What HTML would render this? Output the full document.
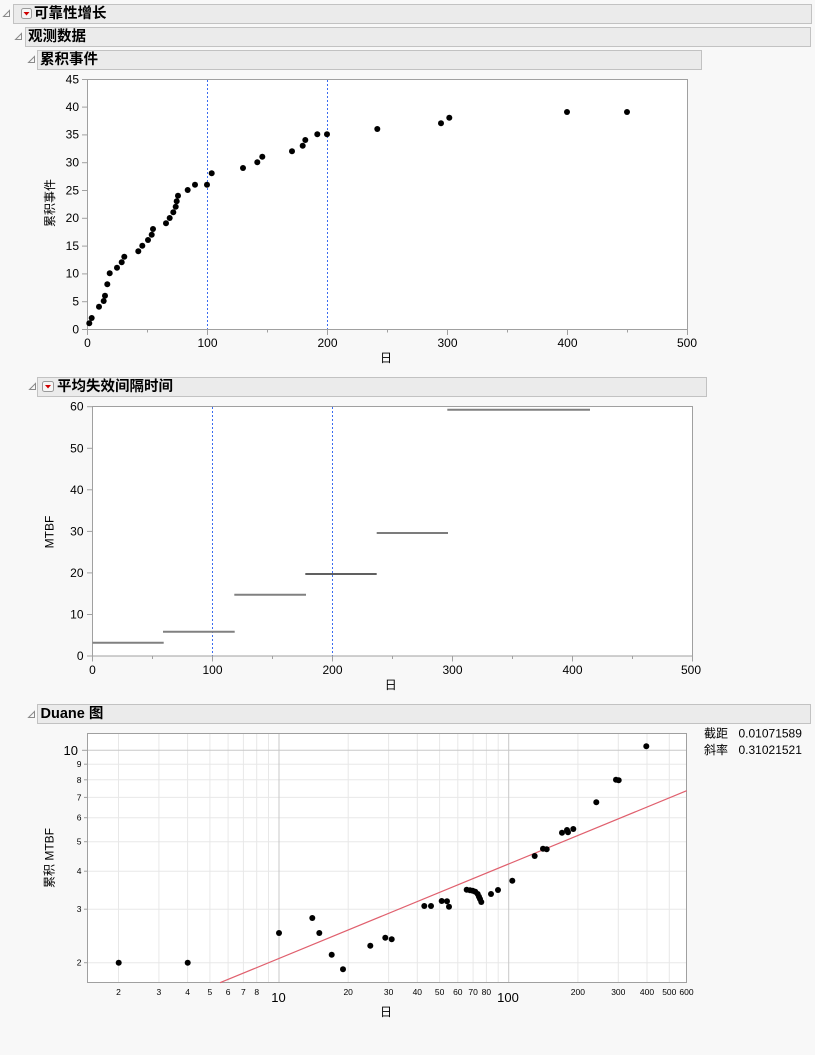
<!DOCTYPE html>
<html><head><meta charset="utf-8">
<style>
html,body{margin:0;padding:0;background:#f8f8f8;}
svg{display:block;}
text{font-family:"Liberation Sans","Noto Sans CJK SC",sans-serif;fill:#000;}
.h{font-weight:bold;font-size:14.5px;}
.t{font-size:12px;}
.s{font-size:8.5px;}
</style></head><body>
<svg width="815" height="1055" viewBox="0 0 815 1055" xmlns="http://www.w3.org/2000/svg">
<rect x="0" y="0" width="815" height="1055" fill="#f8f8f8"/>

<!-- Header bars -->
<g stroke="#c2c2c2" fill="#ebebeb">
<rect x="13.5" y="4.5" width="798" height="19"/>
<rect x="25.5" y="27.5" width="785" height="19"/>
<rect x="37.5" y="50.5" width="664" height="19"/>
<rect x="37.5" y="377.5" width="669" height="19"/>
<rect x="37.5" y="704.5" width="773" height="19"/>
</g>
<!-- disclosure triangles -->
<g fill="none" stroke="#8a8a8a" stroke-width="1">
<polygon points="3.5,16.5 9.5,16.5 9.5,10.5"/>
<polygon points="15.5,39.5 21.5,39.5 21.5,33.5"/>
<polygon points="28.5,62.5 34.5,62.5 34.5,56.5"/>
<polygon points="29.5,389.5 35.5,389.5 35.5,383.5"/>
<polygon points="28.5,717.5 34.5,717.5 34.5,711.5"/>
</g>
<!-- red dropdown icons -->
<rect x="21.5" y="8.5" width="10" height="10" rx="2" fill="#f6f6f6" stroke="#9a9a9a"/>
<polygon points="23.5,12 29.5,12 26.5,15.5" fill="#d00000"/>
<rect x="42.5" y="381.5" width="11" height="10" rx="2" fill="#f6f6f6" stroke="#9a9a9a"/>
<polygon points="45,385 51,385 48,388.5" fill="#d00000"/>

<text class="h" x="34" y="14" dominant-baseline="central">可靠性增长</text>
<text class="h" x="28" y="37" dominant-baseline="central">观测数据</text>
<text class="h" x="40" y="60" dominant-baseline="central">累积事件</text>
<text class="h" x="57" y="387" dominant-baseline="central">平均失效间隔时间</text>
<text class="h" x="40.5" y="714" dominant-baseline="central">Duane 图</text>

<!-- ===== Chart 1 ===== -->
<rect x="87.5" y="79.5" width="600" height="250" fill="#fff" stroke="#a0a0a0"/>
<g stroke="#a0a0a0">
<line x1="82" y1="329.5" x2="87.5" y2="329.5"/>
<line x1="82" y1="301.7" x2="87.5" y2="301.7"/>
<line x1="82" y1="273.9" x2="87.5" y2="273.9"/>
<line x1="82" y1="246.1" x2="87.5" y2="246.1"/>
<line x1="82" y1="218.3" x2="87.5" y2="218.3"/>
<line x1="82" y1="190.5" x2="87.5" y2="190.5"/>
<line x1="82" y1="162.7" x2="87.5" y2="162.7"/>
<line x1="82" y1="134.9" x2="87.5" y2="134.9"/>
<line x1="82" y1="107.1" x2="87.5" y2="107.1"/>
<line x1="82" y1="79.5" x2="87.5" y2="79.5"/>
<line x1="87.5" y1="329.5" x2="87.5" y2="335"/>
<line x1="207.5" y1="329.5" x2="207.5" y2="335"/>
<line x1="327.5" y1="329.5" x2="327.5" y2="335"/>
<line x1="447.5" y1="329.5" x2="447.5" y2="335"/>
<line x1="567.5" y1="329.5" x2="567.5" y2="335"/>
<line x1="687.5" y1="329.5" x2="687.5" y2="335"/>
<line x1="147.5" y1="329.5" x2="147.5" y2="332.5"/>
<line x1="267.5" y1="329.5" x2="267.5" y2="332.5"/>
<line x1="387.5" y1="329.5" x2="387.5" y2="332.5"/>
<line x1="507.5" y1="329.5" x2="507.5" y2="332.5"/>
<line x1="627.5" y1="329.5" x2="627.5" y2="332.5"/>
</g>
<g class="t" text-anchor="end">
<text x="79" y="329.3" dominant-baseline="central">0</text>
<text x="79" y="301.5" dominant-baseline="central">5</text>
<text x="79" y="273.7" dominant-baseline="central">10</text>
<text x="79" y="245.9" dominant-baseline="central">15</text>
<text x="79" y="218.1" dominant-baseline="central">20</text>
<text x="79" y="190.3" dominant-baseline="central">25</text>
<text x="79" y="162.5" dominant-baseline="central">30</text>
<text x="79" y="134.7" dominant-baseline="central">35</text>
<text x="79" y="106.9" dominant-baseline="central">40</text>
<text x="79" y="79.3" dominant-baseline="central">45</text>
</g>
<g class="t" text-anchor="middle">
<text x="87.5" y="343" dominant-baseline="central">0</text>
<text x="207.5" y="343" dominant-baseline="central">100</text>
<text x="327.5" y="343" dominant-baseline="central">200</text>
<text x="447.5" y="343" dominant-baseline="central">300</text>
<text x="567.5" y="343" dominant-baseline="central">400</text>
<text x="687" y="343" dominant-baseline="central">500</text>
<text x="386" y="358" dominant-baseline="central">日</text>
</g>
<text class="t" text-anchor="middle" transform="translate(50,203) rotate(-90)" dominant-baseline="central">累积事件</text>
<g stroke="#3a6cf0" stroke-dasharray="2,2" stroke-width="1">
<line x1="207.5" y1="80" x2="207.5" y2="329"/>
<line x1="327.5" y1="80" x2="327.5" y2="329"/>
</g>
<g fill="#000">
<circle cx="89.3" cy="323.3" r="3"/><circle cx="91.7" cy="318" r="3"/>
<circle cx="99" cy="306.7" r="3"/><circle cx="103.7" cy="301" r="3"/>
<circle cx="105" cy="295.7" r="3"/><circle cx="107.3" cy="284.3" r="3"/>
<circle cx="109.7" cy="273.3" r="3"/><circle cx="117" cy="267.7" r="3"/>
<circle cx="121.7" cy="262.3" r="3"/><circle cx="124.3" cy="256.7" r="3"/>
<circle cx="138.3" cy="251.3" r="3"/><circle cx="142.3" cy="245.7" r="3"/>
<circle cx="148" cy="240" r="3"/><circle cx="151.7" cy="234.7" r="3"/>
<circle cx="153" cy="229" r="3"/><circle cx="166" cy="223.3" r="3"/>
<circle cx="169.7" cy="218" r="3"/><circle cx="173.3" cy="212.3" r="3"/>
<circle cx="175.7" cy="206.7" r="3"/><circle cx="176.7" cy="201.3" r="3"/>
<circle cx="178" cy="195.7" r="3"/><circle cx="187.7" cy="190" r="3"/>
<circle cx="195" cy="184.7" r="3"/><circle cx="207" cy="184.7" r="3"/>
<circle cx="211.7" cy="173.3" r="3"/><circle cx="243" cy="168" r="3"/>
<circle cx="257.3" cy="162.3" r="3"/><circle cx="262.3" cy="156.7" r="3"/>
<circle cx="292" cy="151.3" r="3"/><circle cx="302.7" cy="145.7" r="3"/>
<circle cx="305.3" cy="140" r="3"/><circle cx="317.3" cy="134.3" r="3"/>
<circle cx="327" cy="134.3" r="3"/><circle cx="377.3" cy="129" r="3"/>
<circle cx="441" cy="123.3" r="3"/><circle cx="449.3" cy="117.7" r="3"/>
<circle cx="567" cy="112" r="3"/><circle cx="627" cy="112" r="3"/>
</g>

<!-- ===== Chart 2 ===== -->
<rect x="92.5" y="406.5" width="600" height="249.5" fill="#fff" stroke="#a0a0a0"/>
<g stroke="#a0a0a0">
<line x1="87" y1="656" x2="92.5" y2="656"/>
<line x1="87" y1="614.5" x2="92.5" y2="614.5"/>
<line x1="87" y1="572.9" x2="92.5" y2="572.9"/>
<line x1="87" y1="531.4" x2="92.5" y2="531.4"/>
<line x1="87" y1="489.8" x2="92.5" y2="489.8"/>
<line x1="87" y1="448.3" x2="92.5" y2="448.3"/>
<line x1="87" y1="406.7" x2="92.5" y2="406.7"/>
<line x1="92.5" y1="656" x2="92.5" y2="661.5"/>
<line x1="212.5" y1="656" x2="212.5" y2="661.5"/>
<line x1="332.5" y1="656" x2="332.5" y2="661.5"/>
<line x1="452.5" y1="656" x2="452.5" y2="661.5"/>
<line x1="572.5" y1="656" x2="572.5" y2="661.5"/>
<line x1="692.5" y1="656" x2="692.5" y2="661.5"/>
<line x1="152.5" y1="656" x2="152.5" y2="659"/>
<line x1="272.5" y1="656" x2="272.5" y2="659"/>
<line x1="392.5" y1="656" x2="392.5" y2="659"/>
<line x1="512.5" y1="656" x2="512.5" y2="659"/>
<line x1="632.5" y1="656" x2="632.5" y2="659"/>
</g>
<g class="t" text-anchor="end">
<text x="83.5" y="656" dominant-baseline="central">0</text>
<text x="83.5" y="614.5" dominant-baseline="central">10</text>
<text x="83.5" y="572.9" dominant-baseline="central">20</text>
<text x="83.5" y="531.4" dominant-baseline="central">30</text>
<text x="83.5" y="489.8" dominant-baseline="central">40</text>
<text x="83.5" y="448.3" dominant-baseline="central">50</text>
<text x="83.5" y="406.7" dominant-baseline="central">60</text>
</g>
<g class="t" text-anchor="middle">
<text x="92.5" y="670" dominant-baseline="central">0</text>
<text x="212.5" y="670" dominant-baseline="central">100</text>
<text x="332.5" y="670" dominant-baseline="central">200</text>
<text x="452.5" y="670" dominant-baseline="central">300</text>
<text x="572.5" y="670" dominant-baseline="central">400</text>
<text x="691" y="670" dominant-baseline="central">500</text>
<text x="390.7" y="685" dominant-baseline="central">日</text>
</g>
<text class="t" text-anchor="middle" transform="translate(49.5,532) rotate(-90)" dominant-baseline="central">MTBF</text>
<g stroke="#3a6cf0" stroke-dasharray="2,2" stroke-width="1">
<line x1="212.5" y1="407" x2="212.5" y2="655.5"/>
<line x1="332.5" y1="407" x2="332.5" y2="655.5"/>
</g>
<g stroke-linecap="butt">
<line x1="92.5" y1="642.7" x2="163.7" y2="642.7" stroke="#808080" stroke-width="2"/>
<line x1="163" y1="631.7" x2="234.7" y2="631.7" stroke="#808080" stroke-width="2"/>
<line x1="234.3" y1="594.7" x2="306" y2="594.7" stroke="#808080" stroke-width="2"/>
<line x1="305.3" y1="574" x2="376.7" y2="574" stroke="#000" stroke-width="1.2"/>
<line x1="376.7" y1="533" x2="448" y2="533" stroke="#505050" stroke-width="1.5"/>
<line x1="447.3" y1="409.7" x2="590" y2="409.7" stroke="#808080" stroke-width="2"/>
</g>

<!-- ===== Duane chart ===== -->
<rect x="87.5" y="733.5" width="599" height="249" fill="#fff"/>
<g stroke="#e8e8e8" stroke-width="1">
<line x1="118.5" y1="734" x2="118.5" y2="982"/>
<line x1="158.9" y1="734" x2="158.9" y2="982"/>
<line x1="187.6" y1="734" x2="187.6" y2="982"/>
<line x1="209.9" y1="734" x2="209.9" y2="982"/>
<line x1="228.1" y1="734" x2="228.1" y2="982"/>
<line x1="243.4" y1="734" x2="243.4" y2="982"/>
<line x1="256.7" y1="734" x2="256.7" y2="982"/>
<line x1="268.5" y1="734" x2="268.5" y2="982"/>
<line x1="348.2" y1="734" x2="348.2" y2="982"/>
<line x1="388.6" y1="734" x2="388.6" y2="982"/>
<line x1="417.3" y1="734" x2="417.3" y2="982"/>
<line x1="439.6" y1="734" x2="439.6" y2="982"/>
<line x1="457.8" y1="734" x2="457.8" y2="982"/>
<line x1="473.1" y1="734" x2="473.1" y2="982"/>
<line x1="486.4" y1="734" x2="486.4" y2="982"/>
<line x1="498.2" y1="734" x2="498.2" y2="982"/>
<line x1="577.9" y1="734" x2="577.9" y2="982"/>
<line x1="618.3" y1="734" x2="618.3" y2="982"/>
<line x1="647" y1="734" x2="647" y2="982"/>
<line x1="669.3" y1="734" x2="669.3" y2="982"/>
<line x1="88" y1="962.7" x2="686" y2="962.7"/>
<line x1="88" y1="909.2" x2="686" y2="909.2"/>
<line x1="88" y1="871.2" x2="686" y2="871.2"/>
<line x1="88" y1="841.7" x2="686" y2="841.7"/>
<line x1="88" y1="817.7" x2="686" y2="817.7"/>
<line x1="88" y1="797.4" x2="686" y2="797.4"/>
<line x1="88" y1="779.8" x2="686" y2="779.8"/>
<line x1="88" y1="764.2" x2="686" y2="764.2"/>
</g>
<g stroke="#c8c8c8" stroke-width="1">
<line x1="279" y1="734" x2="279" y2="982"/>
<line x1="508.7" y1="734" x2="508.7" y2="982"/>
<line x1="88" y1="750.3" x2="686" y2="750.3"/>
</g>
<rect x="87.5" y="733.5" width="599" height="249" fill="none" stroke="#a0a0a0"/>
<g stroke="#a0a0a0">
<line x1="84" y1="962.7" x2="87.5" y2="962.7"/>
<line x1="84" y1="909.2" x2="87.5" y2="909.2"/>
<line x1="84" y1="871.2" x2="87.5" y2="871.2"/>
<line x1="84" y1="841.7" x2="87.5" y2="841.7"/>
<line x1="84" y1="817.7" x2="87.5" y2="817.7"/>
<line x1="84" y1="797.4" x2="87.5" y2="797.4"/>
<line x1="84" y1="779.8" x2="87.5" y2="779.8"/>
<line x1="84" y1="764.2" x2="87.5" y2="764.2"/>
<line x1="82" y1="750.3" x2="87.5" y2="750.3"/>
</g>
<g class="s" text-anchor="end">
<text x="81.5" y="962.7" dominant-baseline="central">2</text>
<text x="81.5" y="909.2" dominant-baseline="central">3</text>
<text x="81.5" y="871.2" dominant-baseline="central">4</text>
<text x="81.5" y="841.7" dominant-baseline="central">5</text>
<text x="81.5" y="817.7" dominant-baseline="central">6</text>
<text x="81.5" y="797.4" dominant-baseline="central">7</text>
<text x="81.5" y="779.8" dominant-baseline="central">8</text>
<text x="81.5" y="764.2" dominant-baseline="central">9</text>
</g>
<text x="78" y="750.3" text-anchor="end" dominant-baseline="central" style="font-size:13px">10</text>
<g class="s" text-anchor="middle">
<text x="118.5" y="992" dominant-baseline="central">2</text>
<text x="158.9" y="992" dominant-baseline="central">3</text>
<text x="187.6" y="992" dominant-baseline="central">4</text>
<text x="209.9" y="992" dominant-baseline="central">5</text>
<text x="228.1" y="992" dominant-baseline="central">6</text>
<text x="243.4" y="992" dominant-baseline="central">7</text>
<text x="256.7" y="992" dominant-baseline="central">8</text>
<text x="348.2" y="992" dominant-baseline="central">20</text>
<text x="388.6" y="992" dominant-baseline="central">30</text>
<text x="417.3" y="992" dominant-baseline="central">40</text>
<text x="439.6" y="992" dominant-baseline="central">50</text>
<text x="457.8" y="992" dominant-baseline="central">60</text>
<text x="473.1" y="992" dominant-baseline="central">70</text>
<text x="486.4" y="992" dominant-baseline="central">80</text>
<text x="577.9" y="992" dominant-baseline="central">200</text>
<text x="618.3" y="992" dominant-baseline="central">300</text>
<text x="647" y="992" dominant-baseline="central">400</text>
<text x="669.3" y="992" dominant-baseline="central">500</text>
<text x="686.5" y="992" dominant-baseline="central">600</text>
</g>
<g text-anchor="middle" style="font-size:13px">
<text x="278.5" y="997.5" dominant-baseline="central">10</text>
<text x="508" y="997.5" dominant-baseline="central">100</text>
</g>
<text class="t" x="386" y="1012" text-anchor="middle" dominant-baseline="central">日</text>
<text class="t" text-anchor="middle" transform="translate(49.5,858) rotate(-90)" dominant-baseline="central">累积 MTBF</text>
<line x1="220" y1="982.7" x2="686.7" y2="790.7" stroke="#e0606e" stroke-width="1.2"/>
<g fill="#000">
<circle cx="118.7" cy="962.7" r="3"/><circle cx="187.7" cy="962.7" r="3"/>
<circle cx="279" cy="933" r="3"/><circle cx="312.3" cy="918" r="3"/>
<circle cx="319.3" cy="933" r="3"/><circle cx="331.7" cy="954.7" r="3"/>
<circle cx="343" cy="969.3" r="3"/><circle cx="370.3" cy="945.7" r="3"/>
<circle cx="385.3" cy="937.7" r="3"/><circle cx="391.7" cy="939.3" r="3"/>
<circle cx="424.3" cy="906" r="3"/><circle cx="431" cy="906" r="3"/>
<circle cx="441.7" cy="901" r="3"/><circle cx="447" cy="901.3" r="3"/>
<circle cx="449" cy="906.7" r="3"/><circle cx="466.7" cy="889.7" r="3"/>
<circle cx="470" cy="890.3" r="3"/><circle cx="472.7" cy="890.7" r="3"/>
<circle cx="475.3" cy="891.7" r="3"/><circle cx="477.7" cy="894" r="3"/>
<circle cx="479" cy="896.7" r="3"/><circle cx="480" cy="899" r="3"/>
<circle cx="481.3" cy="902" r="3"/><circle cx="491" cy="894" r="3"/>
<circle cx="498" cy="890" r="3"/><circle cx="512.3" cy="880.7" r="3"/>
<circle cx="534.7" cy="856" r="3"/><circle cx="543" cy="848.7" r="3"/>
<circle cx="546.7" cy="849.3" r="3"/><circle cx="562" cy="832.7" r="3"/>
<circle cx="567" cy="830" r="3"/><circle cx="568" cy="832.3" r="3"/>
<circle cx="573.3" cy="829" r="3"/><circle cx="596.3" cy="802.3" r="3"/>
<circle cx="616" cy="779.7" r="3"/><circle cx="618.7" cy="780.3" r="3"/>
<circle cx="646.3" cy="746.3" r="3"/>
</g>

<!-- legend -->
<g class="t">
<text x="704" y="733.5" dominant-baseline="central">截距</text>
<text x="738.5" y="733.5" dominant-baseline="central">0.01071589</text>
<text x="704" y="750" dominant-baseline="central">斜率</text>
<text x="738.5" y="750" dominant-baseline="central">0.31021521</text>
</g>
</svg>
</body></html>
